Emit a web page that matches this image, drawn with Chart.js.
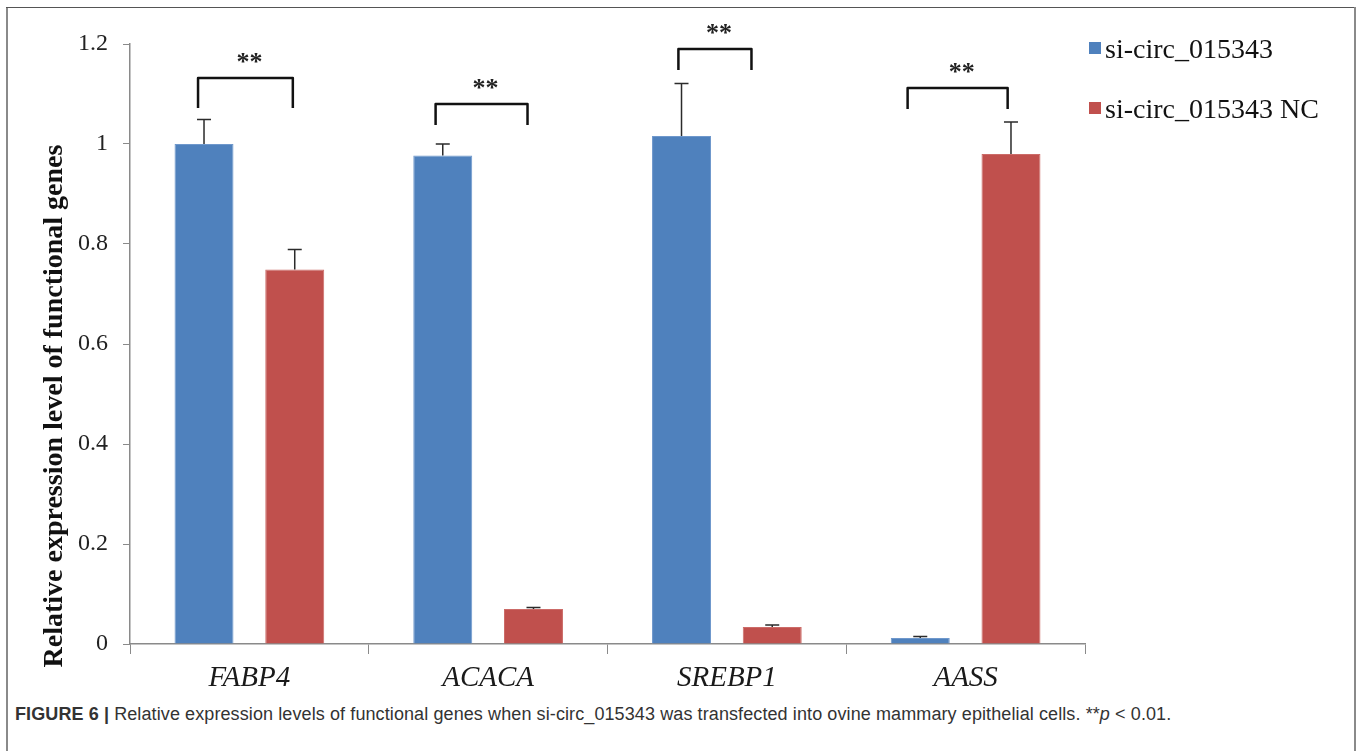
<!DOCTYPE html>
<html>
<head>
<meta charset="utf-8">
<script src="https://cdn.jsdelivr.net/npm/chart.js@4"></script>
<style>
  html, body { margin:0; padding:0; background:#fff; width:1360px; height:751px; overflow:hidden; }
  #wrap { position:absolute; left:0; top:0; width:1360px; height:700px; }
  .bl { position:absolute; left:6px; top:8px; width:2px; height:743px; background:#8a8a8a; }
  .bt { position:absolute; left:6px; top:7px; width:1350px; height:1px; background:#555; }
  .br { position:absolute; left:1354px; top:7px; width:2px; height:744px; background:#8a8a8a; }
  #cap { position:absolute; left:15px; top:704px; font-family:"Liberation Sans", Arial, sans-serif; font-size:18px; line-height:20px; color:#333; white-space:nowrap; letter-spacing:0.1px; }
</style>
</head>
<body>
<div id="wrap"><canvas id="c" width="1360" height="700"></canvas></div>
<div class="bl"></div><div class="bt"></div><div class="br"></div>
<div id="cap"><b>FIGURE 6 |</b> Relative expression levels of functional genes when si-circ_015343 was transfected into ovine mammary epithelial cells. **<i>p</i> &lt; 0.01.</div>
<script>
// ---- data ----
const categories = ["FABP4", "ACACA", "SREBP1", "AASS"];
const seriesNames = ["si-circ_015343", "si-circ_015343 NC"];
const siCirc = [1.0, 0.977, 1.016, 0.012];
const siCircErr = [0.049, 0.023, 0.105, 0.003];
const siCircNC = [0.749, 0.070, 0.034, 0.980];
const siCircNCErr = [0.040, 0.003, 0.004, 0.064];
const yTicks = [0, 0.2, 0.4, 0.6, 0.8, 1, 1.2];
const sigLabels = ["**", "**", "**", "**"];
const yTitle = "Relative expression level of functional genes";

// annotation geometry (category-relative offsets and value heights)
const brackets = [
  { from: -0.215, to: 0.182, top: 1.132, leg: 1.072 },
  { from: -0.220, to: 0.165, top: 1.080, leg: 1.038 },
  { from: -0.203, to: 0.103, top: 1.190, leg: 1.148 },
  { from: -0.243, to: 0.176, top: 1.112, leg: 1.070 }
];

const BLUE = "#4F81BD", RED = "#C0504D";
const errs = [siCircErr, siCircNCErr];

const extras = {
  id: "extras",
  afterDatasetsDraw(chart) {
    const ctx = chart.ctx, y = chart.scales.y;
    ctx.save();
    ctx.strokeStyle = "#2b2b2b";
    ctx.lineWidth = 1.5;
    chart.data.datasets.forEach((ds, di) => {
      const meta = chart.getDatasetMeta(di);
      meta.data.forEach((el, i) => {
        const yt = y.getPixelForValue(ds.data[i] + errs[di][i]);
        ctx.beginPath();
        ctx.moveTo(el.x, el.y);
        ctx.lineTo(el.x, yt);
        ctx.moveTo(el.x - 7, yt);
        ctx.lineTo(el.x + 7, yt);
        ctx.stroke();
      });
    });
    ctx.restore();
  },
  afterDraw(chart) {
    const ctx = chart.ctx, x = chart.scales.x, y = chart.scales.y;
    const catW = x.getPixelForValue(1) - x.getPixelForValue(0);
    ctx.save();
    // significance brackets
    ctx.strokeStyle = "#111";
    ctx.lineWidth = 2.5;
    ctx.lineJoin = "round";
    brackets.forEach((b, i) => {
      const c = x.getPixelForValue(i);
      const x1 = c + b.from * catW, x2 = c + b.to * catW;
      const yt = y.getPixelForValue(b.top), yl = y.getPixelForValue(b.leg);
      ctx.beginPath();
      ctx.moveTo(x1, yl);
      ctx.lineTo(x1, yt);
      ctx.lineTo(x2, yt);
      ctx.lineTo(x2, yl);
      ctx.stroke();
      ctx.fillStyle = "#222";
      ctx.font = "bold 26px 'Liberation Serif'";
      ctx.textAlign = "center";
      ctx.textBaseline = "alphabetic";
      ctx.fillText(sigLabels[i], (x1 + x2) / 2 + 4, yt - 8);
    });
    // y-axis title
    ctx.save();
    ctx.translate(55, 406);
    ctx.rotate(-Math.PI / 2);
    ctx.font = "bold 28px 'Liberation Serif'";
    ctx.fillStyle = "#111";
    ctx.textAlign = "center";
    ctx.textBaseline = "middle";
    ctx.fillText(yTitle, 0, 0);
    ctx.restore();
    // legend
    ctx.font = "28px 'Liberation Serif'";
    ctx.textAlign = "left";
    ctx.textBaseline = "alphabetic";
    chart.data.datasets.forEach((ds, di) => {
      const cy = 48 + di * 60;
      ctx.fillStyle = ds.backgroundColor;
      ctx.fillRect(1089, cy - 6, 12, 12);
      ctx.fillStyle = "#111";
      ctx.fillText(ds.label, 1105, cy + 9.5);
    });
    ctx.restore();
  }
};

new Chart(document.getElementById("c"), {
  type: "bar",
  data: {
    labels: categories,
    datasets: [
      { label: seriesNames[0], data: siCirc, backgroundColor: BLUE, borderColor: "#6f98cc", borderWidth: 1,
        categoryPercentage: 0.76, barPercentage: 0.65 },
      { label: seriesNames[1], data: siCircNC, backgroundColor: RED, borderColor: "#cc6b68", borderWidth: 1,
        categoryPercentage: 0.76, barPercentage: 0.65 }
    ]
  },
  options: {
    responsive: false,
    animation: false,
    layout: { padding: { left: 0, right: 1360 - 1085, top: 44, bottom: 0 } },
    plugins: { legend: { display: false }, tooltip: { enabled: false } },
    scales: {
      x: {
        grid: { offset: true, drawOnChartArea: false, drawTicks: true, tickLength: 10, color: "#8a8a8a" },
        border: { color: "#8a8a8a", width: 1.5 },
        ticks: { font: { family: "Liberation Serif", size: 29, style: "italic" }, color: "#1a1a1a", padding: 7, maxRotation: 0, autoSkip: false },
        afterFit(s) { s.height = 56; }
      },
      y: {
        min: 0, max: 1.2,
        afterBuildTicks(s) { s.ticks = yTicks.map(v => ({ value: v })); },
        ticks: { font: { family: "Liberation Serif", size: 24 }, color: "#222", padding: 15,
                 callback: (v) => String(Math.round(v * 10) / 10) },
        grid: { drawOnChartArea: false, drawTicks: true, tickLength: 7, color: "#8a8a8a" },
        border: { color: "#8a8a8a", width: 1.5 },
        afterFit(s) { s.width = 130; }
      }
    }
  },
  plugins: [extras]
});
</script>
</body>
</html>
